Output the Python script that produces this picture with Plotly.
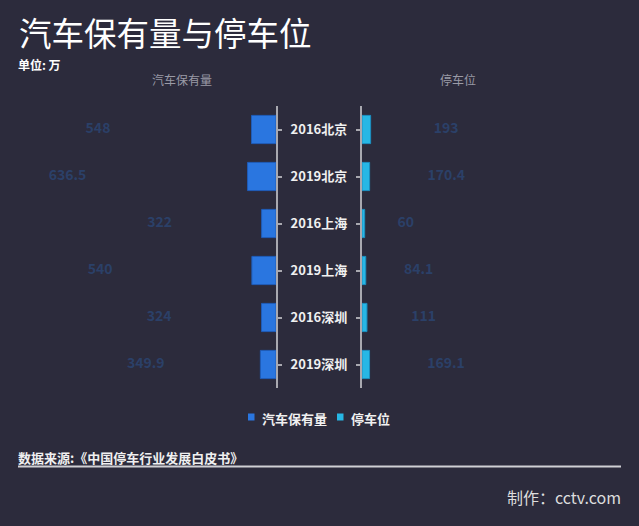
import plotly.graph_objects as go

categories = ["2016北京", "2019北京", "2016上海", "2019上海", "2016深圳", "2019深圳"]
cars = [548, 636.5, 322, 540, 324, 349.9]
cars_text = ["548", "636.5", "322", "540", "324", "349.9"]
parking = [193, 170.4, 60, 84.1, 111, 169.1]
parking_text = ["193", "170.4", "60", "84.1", "111", "169.1"]
series_names = ["汽车保有量", "停车位"]

W, H = 639, 526
BG = "#2c2b3c"
BLUE = "#2a76e0"
CYAN = "#27b7e5"
LABEL = "#2b4068"
FONT = "Noto Sans CJK SC"

AX_L = 276  # left axis pixel
AX_R = 362  # right axis pixel
BAR_S = 0.0447  # px per unit for bars
LAB_S = 0.273   # px per unit for label positions

fig = go.Figure()

fig.add_trace(go.Bar(
    y=categories, x=cars, orientation="h", xaxis="x", yaxis="y", name=series_names[0],
    width=0.6, marker=dict(color=BLUE, line=dict(color="#1f5cb8", width=1)),
    showlegend=False, hoverinfo="skip"))
fig.add_trace(go.Bar(
    y=categories, x=parking, orientation="h", xaxis="x2", yaxis="y2", name=series_names[1],
    width=0.6, marker=dict(color=CYAN, line=dict(color="#1c8fc0", width=1)),
    showlegend=False, hoverinfo="skip"))

fig.add_trace(go.Scatter(
    y=categories, x=cars, xaxis="x3", yaxis="y", mode="text",
    text=cars_text, textposition="middle left",
    textfont=dict(family=FONT, size=14, color=LABEL, weight="bold"),
    showlegend=False, hoverinfo="skip"))
fig.add_trace(go.Scatter(
    y=categories, x=parking, xaxis="x4", yaxis="y2", mode="text",
    text=parking_text, textposition="middle right",
    textfont=dict(family=FONT, size=14, color=LABEL, weight="bold"),
    showlegend=False, hoverinfo="skip"))

left_w = AX_L
right_w = W - AX_R
lab_lo_l = -16 / LAB_S
lab_lo_r = -19 / LAB_S

y_bot = (H - 388) / H
y_top = (H - 106) / H

fig.update_layout(
    width=W, height=H, margin=dict(l=0, r=0, t=0, b=0),
    paper_bgcolor=BG, plot_bgcolor=BG,
    font=dict(family=FONT, color="#ffffff"),
    xaxis=dict(domain=[0, AX_L / W], range=[left_w / BAR_S, 0], visible=False),
    xaxis2=dict(domain=[AX_R / W, 1], range=[0, right_w / BAR_S], visible=False, anchor="y2"),
    xaxis3=dict(overlaying="x", range=[lab_lo_l + left_w / LAB_S, lab_lo_l], visible=False, anchor="y"),
    xaxis4=dict(overlaying="x2", range=[lab_lo_r, lab_lo_r + right_w / LAB_S], visible=False, anchor="y2"),
    yaxis=dict(domain=[y_bot, y_top], anchor="x", side="right", type="category",
               range=[5.5, -0.5], showline=True, linecolor="#a9a9b0", linewidth=2,
               ticks="outside", ticklen=4, tickwidth=1.5, tickcolor="#a9a9b0",
               ticklabelstandoff=6, showgrid=False, zeroline=False,
               tickfont=dict(family=FONT, size=13, color="#f0f0f0", weight="bold")),
    yaxis2=dict(domain=[y_bot, y_top], anchor="x2", side="left", type="category",
                matches="y", showline=True, linecolor="#a9a9b0", linewidth=2,
                ticks="outside", ticklen=4, tickwidth=1.5, tickcolor="#a9a9b0",
                showticklabels=False, showgrid=False, zeroline=False),
    showlegend=False,
    bargap=0.4,
)

def ann(text, x, y, size, color, xanchor="left", weight="normal"):
    fig.add_annotation(text=text, xref="paper", yref="paper", x=x / W, y=1 - y / H,
                       xanchor=xanchor, yanchor="middle", showarrow=False,
                       font=dict(family=FONT, size=size, color=color, weight=weight))

ann("汽车保有量与停车位", 17, 32, 32.5, "#ffffff")
ann("单位: 万", 16, 64, 12, "#ffffff", weight="bold")
ann(series_names[0], 182, 79, 12, "#9a9aa6", xanchor="center")
ann(series_names[1], 458, 79, 12, "#9a9aa6", xanchor="center")
ann("数据来源:《中国停车行业发展白皮书》", 16, 457, 13, "#f0f0f0", weight="bold")
ann("制作：cctv.com", 623, 497, 16, "#dddddd", xanchor="right")

# legend (swatch + label)
for x0, color, name in [(248, BLUE, series_names[0]), (337, CYAN, series_names[1])]:
    fig.add_shape(type="rect", xref="paper", yref="paper",
                  x0=x0 / W, x1=(x0 + 6.5) / W, y0=1 - 420.5 / H, y1=1 - 413.5 / H,
                  fillcolor=color, line=dict(width=0))
    ann(name, x0 + 12, 418, 13, "#f0f0f0", weight="bold")

fig.add_shape(type="line", xref="paper", yref="paper", x0=18 / W, x1=621 / W,
              y0=1 - 466.5 / H, y1=1 - 466.5 / H, line=dict(color="#d0d0d4", width=2))

fig.write_html("out.html", config={"displayModeBar": False},
               post_script="document.body.style.margin='0';")
